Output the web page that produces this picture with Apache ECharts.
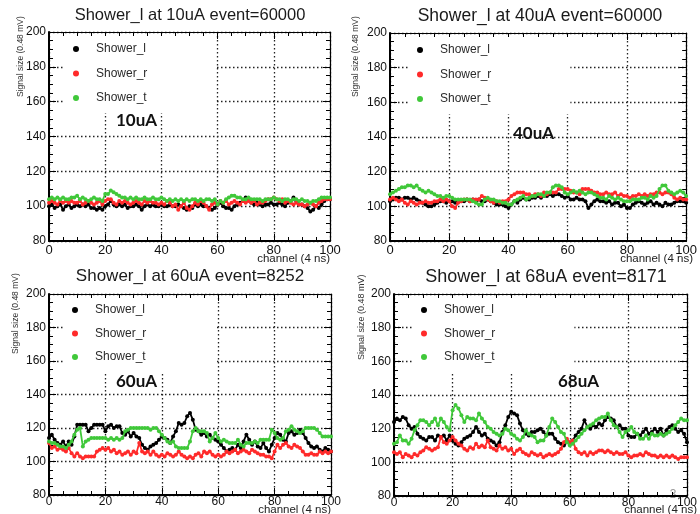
<!DOCTYPE html>
<html><head><meta charset="utf-8">
<script src="https://cdn.jsdelivr.net/npm/echarts@6/dist/echarts.min.js"></script>
<style>html,body{margin:0;padding:0;background:#fff}#c{width:700px;height:514px}</style>
</head><body><div id="c"></div>
<script>
// ---------------- DATA ----------------
const SERIES_NAMES = ['Shower_l', 'Shower_r', 'Shower_t'];
const TITLES = ['Shower_l at 10uA event=60000', 'Shower_l at 40uA event=60000',
                'Shower_l at 60uA event=8252', 'Shower_l at 68uA event=8171'];
const CURRENT_TAGS = ['10uA', '40uA', '60uA', '68uA'];
const X_NAME = 'channel (4 ns)';
const Y_NAME = 'Signal size (0.48 mV)';
const X_MIN = 0, X_MAX = 100, X_STEP = 20;
const Y_MIN = 80, Y_MAX = 200, Y_STEP = 20;

const shower_l_10uA = [
100,101,99,100,101,98,100,101,99,100,
101,100,101,100,101,99,99,98,99,98,
100,101,103,101,100,101,100,101,99,100,
100,101,100,98,100,101,100,101,100,100,
101,100,100,101,100,100,101,100,99,98,
100,99,101,100,101,100,100,99,98,99,
101,102,100,99,99,98,100,101,102,103,
105,104,102,101,102,101,100,101,101,102,
101,101,102,101,100,102,103,105,103,101,
101,100,99,97,98,100,99,101,103,104,
104];
const shower_r_10uA = [
102,103,102,101,103,102,103,102,103,102,
102,103,101,102,103,102,101,102,103,101,
103,104,104,102,101,103,102,103,102,101,
102,103,102,101,103,102,103,102,102,101,
102,101,103,102,100,101,98,100,102,99,
98,100,102,101,103,102,100,98,101,102,
101,103,102,103,101,102,103,102,101,103,
102,103,102,103,101,102,102,103,104,104,
105,104,103,104,102,103,102,101,102,101,
101,100,101,102,101,100,102,103,104,104,
104];
const shower_t_10uA = [
104,105,104,105,104,105,104,104,105,105,
106,104,105,104,103,104,105,104,104,103,
107,107,109,108,107,106,105,105,104,105,
104,105,104,104,105,104,104,105,104,104,
105,104,103,104,103,104,103,104,103,104,
103,104,104,103,104,103,104,104,103,104,
101,103,102,104,105,106,106,105,105,104,
104,105,104,104,104,104,103,104,104,104,
105,104,104,103,104,104,103,104,104,103,
104,103,103,102,103,103,104,105,105,105,
105];

const shower_l_40uA = [
103,104,105,105,104,105,105,104,105,104,
103,102,101,100,100,101,102,103,103,102,
103,103,102,103,103,103,104,103,104,103,
104,103,103,104,103,102,101,101,101,100,
99,101,103,102,104,105,104,104,105,105,
106,105,106,106,107,106,107,107,106,105,
106,104,104,105,104,104,103,99,101,103,
104,103,103,102,103,101,102,102,100,101,
99,99,101,102,103,102,101,102,103,101,
102,101,100,102,101,101,102,103,103,103,
102];
const shower_r_40uA = [
104,105,104,103,104,102,101,103,102,101,
102,102,103,102,102,103,103,104,103,104,
103,100,99,102,103,104,104,103,104,104,
104,106,105,104,103,102,103,102,103,103,
104,106,107,108,108,108,107,107,106,107,
107,106,108,107,108,108,108,110,110,110,
110,109,108,108,107,110,110,110,109,108,
108,107,107,108,107,107,108,106,107,106,
106,105,106,106,107,106,107,106,107,107,
108,108,107,108,108,107,105,104,105,104,
104];
const shower_t_40uA = [
107,108,109,110,111,111,112,112,111,112,
110,109,108,109,108,107,106,106,105,106,
106,105,104,104,104,104,104,104,103,102,
101,101,104,105,104,104,103,103,102,102,
101,101,103,104,105,106,104,105,106,106,
107,107,106,108,108,111,112,112,111,108,
107,108,109,108,109,108,107,108,108,107,
106,105,105,104,106,105,104,105,104,103,
103,103,104,104,104,105,105,104,106,105,
106,110,112,112,109,108,107,108,109,108,
106];

const shower_l_60uA = [
114,116,113,111,110,112,109,112,110,115,
122,122,122,122,118,120,122,122,122,122,
118,121,122,120,121,121,117,116,118,115,
117,115,114,110,108,107,109,110,111,113,
115,114,113,111,115,118,123,122,123,127,
129,125,119,118,116,117,115,116,114,113,
112,110,108,106,107,108,107,110,108,112,
116,113,110,112,109,108,111,108,106,110,
114,117,116,113,112,117,118,116,117,119,
117,114,111,109,108,109,107,106,108,107,
106];
const shower_r_60uA = [
111,108,109,107,108,107,106,108,105,103,
105,103,102,103,103,103,103,106,107,108,
107,108,106,107,105,106,104,105,106,104,
106,105,111,106,105,106,104,106,104,103,
104,103,105,104,103,104,106,104,103,102,
103,102,104,105,103,106,105,106,104,103,
104,103,104,106,105,106,107,105,106,107,
106,105,107,106,105,104,104,103,103,102,
106,110,108,110,111,109,108,110,109,108,
106,104,104,105,104,104,106,105,106,105,
106];
const shower_t_60uA = [
112,111,111,110,109,109,108,110,112,116,
119,120,109,112,113,114,114,114,114,114,
114,113,114,113,114,113,114,118,119,120,
120,120,120,120,120,120,119,120,120,118,
116,114,112,111,112,109,108,108,108,108,
112,118,120,118,118,118,117,112,114,117,
114,112,113,112,111,111,111,113,110,109,
111,111,111,112,111,113,113,113,113,119,
117,114,113,114,118,119,121,119,118,117,
118,120,120,120,120,119,117,115,115,115,
115];

const shower_l_68uA = [
124,126,125,127,126,122,120,121,117,115,
114,113,115,115,113,116,115,116,113,116,
113,111,110,112,114,115,116,118,121,118,
116,117,114,113,112,110,112,118,122,127,
130,129,128,123,119,117,116,118,118,119,
120,118,116,117,117,114,112,111,110,112,
111,113,116,118,120,125,121,120,122,121,
123,122,125,127,126,125,121,122,120,120,
116,115,115,117,116,118,120,117,118,120,
118,120,116,119,121,122,120,118,119,117,
112];
const shower_r_68uA = [
106,105,106,103,105,104,103,105,104,106,
107,109,108,107,108,109,115,112,111,113,
115,113,111,110,108,107,109,108,111,109,
110,109,113,109,108,107,110,108,109,107,
108,105,107,108,106,105,104,106,105,104,
105,103,104,105,104,105,106,108,112,114,
112,113,108,106,105,106,104,106,105,106,
107,107,106,107,106,105,106,105,105,106,
104,103,104,104,105,104,106,105,104,104,
103,104,103,104,103,104,103,102,103,103,
103];
const shower_t_68uA = [
111,112,116,113,113,111,114,119,122,125,
125,124,122,124,126,122,126,124,121,119,
131,134,132,128,124,127,126,126,125,129,
126,124,121,120,118,117,116,117,120,119,
117,116,114,113,115,119,117,116,115,112,
113,113,116,121,126,124,121,118,117,112,
110,111,113,115,117,119,121,122,123,125,
126,127,127,129,125,122,121,118,115,118,
119,121,118,117,114,114,116,114,117,116,
116,117,116,117,118,120,122,124,126,125,
125];

const PANEL_DATA = [
  [shower_l_10uA, shower_r_10uA, shower_t_10uA],
  [shower_l_40uA, shower_r_40uA, shower_t_40uA],
  [shower_l_60uA, shower_r_60uA, shower_t_60uA],
  [shower_l_68uA, shower_r_68uA, shower_t_68uA]
];

// ---------------- LAYOUT / STYLE ----------------
const COLORS = ['#000000', '#ff2a2a', '#40c83a'];
const FONT = '"Liberation Sans", Arial, Helvetica, sans-serif';
const PANELS = [
  {grid:{left:49, top:32, width:281, height:209}, title:{x:190, y:7, size:16.5},
   legend:{left:65, top:36, pad:[6,68,8,8], gap:10.5}, yname:{x:21, y:97, size:8.5},
   xname:{x:330, y:259}, tag:{x:116, y:121}, xlab:{size:13, margin:3}},
  {grid:{left:390, top:33, width:303, height:208}, title:{x:540, y:7, size:17.5},
   legend:{left:408, top:37, pad:[6,79,8,9], gap:10.5}, yname:{x:356, y:97, size:8.5},
   xname:{x:693, y:259}, tag:{x:513, y:134}, xlab:{size:13, margin:3}},
  {grid:{left:49, top:294, width:282, height:201}, title:{x:190, y:268, size:17},
   legend:{left:63, top:298, pad:[5,70,8,9], gap:9.5}, yname:{x:16, y:354, size:8.5},
   xname:{x:331, y:510}, tag:{x:116, y:382}, xlab:{size:12, margin:1}},
  {grid:{left:394, top:294, width:304, height:202}, title:{x:546, y:268, size:18},
   legend:{left:412, top:298, pad:[5,79,8,9], gap:9.5}, yname:{x:362, y:360, size:9},
   xname:{x:697, y:510}, tag:{x:558, y:382}, xlab:{size:12, margin:1}}
];

const gridLine = {show:true, lineStyle:{type:[1.5,2.5], color:'#222', width:1.3}};
const tickStyle = {color:'#000', width:1};

const grids = [], xAxes = [], yAxes = [], series = [], titles = [], legends = [], graphics = [];

PANELS.forEach((p, i) => {
  grids.push(Object.assign({containLabel:false}, p.grid));
  xAxes.push({gridIndex:i, type:'value', min:X_MIN, max:X_MAX, interval:X_STEP, position:'bottom',
    axisLine:{onZero:false, lineStyle:{color:'#000', width:2}},
    axisTick:{inside:true, length:7, lineStyle:tickStyle},
    minorTick:{show:true, splitNumber:4, length:4, lineStyle:tickStyle},
    axisLabel:{margin:p.xlab.margin, fontSize:p.xlab.size, lineHeight:p.xlab.size, color:'#111', fontFamily:FONT,
      showMinLabel:true, showMaxLabel:true},
    splitLine:gridLine});
  xAxes.push({gridIndex:i, type:'value', min:X_MIN, max:X_MAX, interval:X_STEP, position:'top',
    axisLine:{onZero:false, lineStyle:{color:'#000', width:1}},
    axisTick:{inside:true, length:7, lineStyle:tickStyle},
    minorTick:{show:true, splitNumber:4, length:4, lineStyle:tickStyle},
    axisLabel:{show:false}, splitLine:{show:false}});
  yAxes.push({gridIndex:i, type:'value', min:Y_MIN, max:Y_MAX, interval:Y_STEP, position:'left',
    axisLine:{onZero:false, lineStyle:{color:'#000', width:2}},
    axisTick:{inside:true, length:7, lineStyle:tickStyle},
    minorTick:{show:true, splitNumber:4, length:4, lineStyle:tickStyle},
    axisLabel:{margin:3, fontSize:12, color:'#111', fontFamily:FONT, showMinLabel:true, showMaxLabel:true},
    splitLine:gridLine});
  yAxes.push({gridIndex:i, type:'value', min:Y_MIN, max:Y_MAX, interval:Y_STEP, position:'right',
    axisLine:{onZero:false, lineStyle:{color:'#000', width:1.2}},
    axisTick:{inside:true, length:7, lineStyle:tickStyle},
    minorTick:{show:true, splitNumber:4, length:4, lineStyle:tickStyle},
    axisLabel:{show:false}, splitLine:{show:false}});

  PANEL_DATA[i].forEach((vals, k) => {
    series.push({
      name: SERIES_NAMES[k], type:'line', xAxisIndex:2*i, yAxisIndex:2*i,
      data: vals.map((v, ch) => [ch, v]),
      symbol:'circle', symbolSize:4, showAllSymbol:true,
      itemStyle:{color:COLORS[k]}, lineStyle:{color:COLORS[k], width:1.8},
      z: 3 + k, animation:false
    });
  });

  titles.push({text:TITLES[i], left:p.title.x, top:p.title.y, textAlign:'center', padding:0,
    textStyle:{fontSize:p.title.size, fontWeight:'normal', color:'#1a1a1a', fontFamily:FONT}});

  legends.push({data:SERIES_NAMES.slice(), orient:'vertical', left:p.legend.left, top:p.legend.top,
    padding:p.legend.pad, itemGap:p.legend.gap, itemWidth:30, itemHeight:6, icon:'circle',
    backgroundColor:'#ffffff', selectedMode:false,
    textStyle:{fontSize:12, color:'#2a2a2a', fontFamily:FONT, lineHeight:14}});

  graphics.push({type:'text', x:p.yname.x, y:p.yname.y, rotation:Math.PI/2,
    style:{text:Y_NAME, fontSize:p.yname.size, fontFamily:FONT, fill:'#333',
      align:'left', textAlign:'left', verticalAlign:'middle', textVerticalAlign:'middle'}});
  graphics.push({type:'text', x:p.xname.x, y:p.xname.y,
    style:{text:X_NAME, fontSize:11.5, fontFamily:FONT, fill:'#222',
      align:'right', textAlign:'right', verticalAlign:'middle', textVerticalAlign:'middle'}});
  graphics.push({type:'text', x:p.tag.x, y:p.tag.y, z:100,
    style:{text:CURRENT_TAGS[i], fontSize:17, fontWeight:'bold', fontFamily:'Lato, "Open Sans", sans-serif', fill:'#111',
      align:'left', textAlign:'left', verticalAlign:'middle', textVerticalAlign:'middle'}});
});

graphics.push({type:'text', x:673, y:495,
  style:{text:'3', fontSize:12, fontFamily:FONT, fill:'#9a9a9a', align:'center', textAlign:'center',
    verticalAlign:'middle', textVerticalAlign:'middle'}});

const chart = echarts.init(document.getElementById('c'), null, {renderer:'canvas'});
chart.setOption({
  animation:false,
  backgroundColor:'#ffffff',
  title:titles, legend:legends, grid:grids, xAxis:xAxes, yAxis:yAxes, series:series, graphic:graphics
});
</script></body></html>
